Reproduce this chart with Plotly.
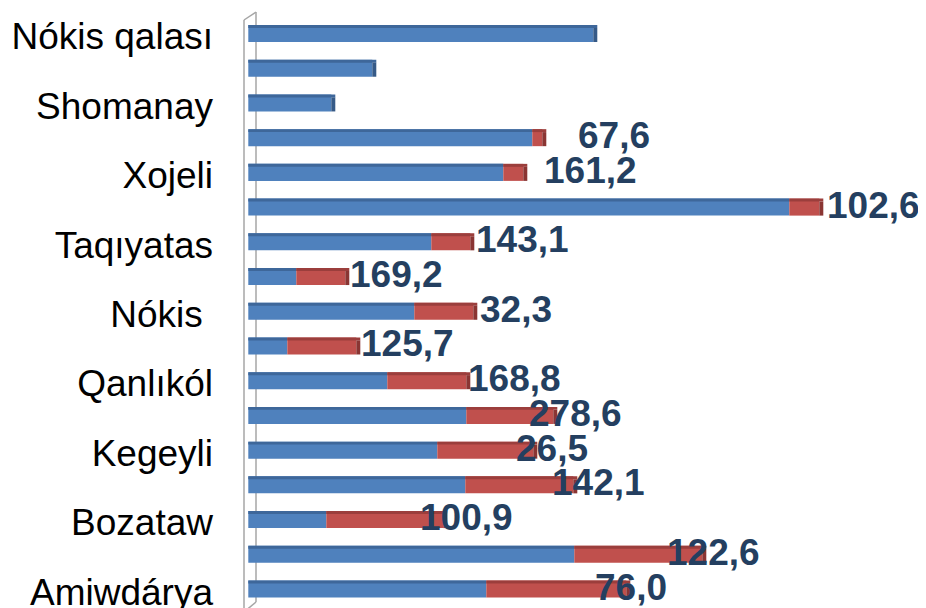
import plotly.graph_objects as go

# ---- data (arbitrary length units) ----
labels = ["Nókis qalası", "", "Shomanay", "", "Xojeli", "", "Taqıyatas", "",
          "Nókis\u00a0", "", "Qanlıkól", "", "Kegeyli", "", "Bozataw", "", "Amiwdárya"]
blue_vals = [345, 124, 83, 284, 255, 541, 183, 48, 166, 39, 139, 218, 189, 217, 78, 326, 238]
red_vals = [0, 0, 0, 10, 20, 30, 39, 49, 59, 69, 79, 87, 96, 108, 117, 128, 140]
growth = [None, None, None, 67.6, 161.2, 102.6, 143.1, 169.2, 32.3, 125.7,
          168.8, 278.6, 26.5, 142.1, 100.9, 122.6, 76.0]

# ---- styling / layout constants ----
label_shift = [0, 0, 0, 34, 19, 6, 4, 3, 5, 3, 0, -26, -19, -23, -25, -37, -33]
PAGE = 8                       # default body margin of the html page
W, H = 926 - PAGE, 608 - PAGE  # figure size so that it fills the window
left_m = 248 - PAGE
step_px = 34.72
first_center_px = 33.5 - PAGE
bar_w = 0.49
strip_w = 0.085
cap = 4

BLUE, BLUE_TOP, BLUE_CAP = "#4F81BD", "#3E679A", "#365A87"
RED, RED_TOP, RED_CAP = "#C0504D", "#9B3E3C", "#8A3533"

n = len(labels)
pos = list(range(n))
totals = [b + r for b, r in zip(blue_vals, red_vals)]

fig = go.Figure()
# front faces
fig.add_trace(go.Bar(y=pos, x=blue_vals, base=[0] * n, orientation="h",
                     width=bar_w, offset=-bar_w / 2, marker_color=BLUE,
                     marker_line_width=0, name="A", hoverinfo="x"))
fig.add_trace(go.Bar(y=pos, x=red_vals, base=blue_vals, orientation="h",
                     width=bar_w, offset=-bar_w / 2, marker_color=RED,
                     marker_line_width=0, name="B", hoverinfo="x"))
# top faces (thin darker strips)
fig.add_trace(go.Bar(y=pos, x=[b + (cap if r == 0 else 0) for b, r in zip(blue_vals, red_vals)],
                     base=[0] * n, orientation="h",
                     width=strip_w, offset=-bar_w / 2, marker_color=BLUE_TOP,
                     marker_line_width=0, showlegend=False, hoverinfo="skip"))
fig.add_trace(go.Bar(y=pos, x=[(r + cap) if r > 0 else 0 for r in red_vals],
                     base=blue_vals, orientation="h",
                     width=strip_w, offset=-bar_w / 2, marker_color=RED_TOP,
                     marker_line_width=0, showlegend=False, hoverinfo="skip"))
# end caps
fig.add_trace(go.Bar(y=pos, x=[cap] * n, base=totals, orientation="h",
                     width=bar_w - strip_w, offset=-bar_w / 2 + strip_w,
                     marker_color=[RED_CAP if r > 0 else BLUE_CAP for r in red_vals],
                     marker_line_width=0, showlegend=False, hoverinfo="skip"))

# value labels
for i, g in enumerate(growth):
    if g is None:
        continue
    fig.add_annotation(x=totals[i], y=pos[i], xref="x", yref="y",
                       text=f"{g:.1f}".replace(".", ","), showarrow=False,
                       xanchor="left", yanchor="middle", xshift=label_shift[i],
                       yshift=2,
                       font=dict(family="Liberation Sans, Arial, sans-serif",
                                 size=37, color="#243F60", weight="bold"))

# 3D side wall lines (reference pixel coordinates, shifted by page margin)
gray = "#A6A6A6"
def px_y(p):
    return 1 - (p - PAGE) / H
def px_x(p):
    return (p - PAGE - left_m) / (W - left_m)
wall = [((244, 20), (244, 620)), ((244, 20), (256, 12)), ((256, 12), (256, 602)),
        ((256, 602), (244, 612))]
for (x0, y0), (x1, y1) in wall:
    fig.add_shape(type="line", xref="paper", yref="paper",
                  x0=px_x(x0), x1=px_x(x1), y0=px_y(y0), y1=px_y(y1),
                  line=dict(color=gray, width=1.5), layer="below")

y_top = -first_center_px / step_px
y_bot = y_top + H / step_px
tick_idx = [i for i, t in enumerate(labels) if t]
fig.update_layout(
    width=W, height=H,
    margin=dict(l=left_m, r=0, t=0, b=0, autoexpand=False),
    barmode="overlay",
    showlegend=False,
    plot_bgcolor="white", paper_bgcolor="white",
    xaxis=dict(range=[-0.3, W - left_m - 0.3], visible=False),
    yaxis=dict(range=[y_bot, y_top], showgrid=False, zeroline=False, showline=False,
               tickmode="array", tickvals=[pos[i] + 0.08 for i in tick_idx],
               ticktext=[labels[i] for i in tick_idx], ticks="",
               ticklabelstandoff=34, ticklabeloverflow="allow",
               tickfont=dict(family="Liberation Sans, Arial, sans-serif", size=37,
                             color="black")),
)
fig.write_html("out.html")
